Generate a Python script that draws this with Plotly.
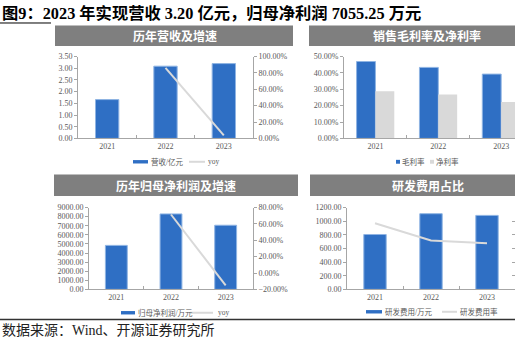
import plotly.graph_objects as go

# ---- data ----
years = ["2021", "2022", "2023"]
revenue = [1.66, 3.09, 3.20]              # 营收/亿元
revenue_yoy = [0.861, 0.036]              # yoy, 2022-2023
gross_margin = [0.470, 0.434, 0.393]      # 毛利率
net_margin = [0.289, 0.269, 0.223]        # 净利率
net_profit = [4840.0, 8300.0, 7055.25]    # 归母净利润/万元
profit_yoy = [0.715, -0.150]              # yoy, 2022-2023
rd_expense = [805.0, 1110.0, 1085.0]      # 研发费用/万元
rd_ratio = [0.0485, 0.0359, 0.0339]       # 研发费用率

W, H = 515, 346


def px(x):
    return x / W


def py(y):
    return 1 - y / H


BLUE = "#2F6FC4"
BLUE_EDGE = "#8FB4E3"
LIGHT = "#D9D9D9"
AXIS = "#A6A6A6"
TXT = "#595959"
SERIF = "Times New Roman, Liberation Serif, serif"
CJK = "Noto Sans CJK SC, sans-serif"
tickfont = dict(family=SERIF, size=8, color=TXT)

fig = go.Figure()

# panel 1: revenue + yoy
fig.add_trace(go.Bar(x=years, y=revenue, name="营收/亿元", width=0.4,
                     marker=dict(color=BLUE, line=dict(color=BLUE_EDGE, width=1)),
                     xaxis="x", yaxis="y"))
fig.add_trace(go.Scatter(x=years[1:], y=revenue_yoy, name="yoy", mode="lines",
                         line=dict(color=LIGHT, width=2), xaxis="x", yaxis="y2"))

# panel 2: gross / net margin
fig.add_trace(go.Bar(x=years, y=gross_margin, name="毛利率",
                     marker=dict(color=BLUE, line=dict(color=BLUE_EDGE, width=1)),
                     xaxis="x2", yaxis="y3"))
fig.add_trace(go.Bar(x=years, y=net_margin, name="净利率",
                     marker=dict(color=LIGHT, line=dict(color=LIGHT, width=0)),
                     xaxis="x2", yaxis="y3"))

# panel 3: net profit + yoy
fig.add_trace(go.Bar(x=years, y=net_profit, name="归母净利润/万元", width=0.4,
                     marker=dict(color=BLUE, line=dict(color=BLUE_EDGE, width=1)),
                     xaxis="x3", yaxis="y4"))
fig.add_trace(go.Scatter(x=years[1:], y=profit_yoy, name="yoy", mode="lines",
                         line=dict(color=LIGHT, width=2), xaxis="x3", yaxis="y5"))

# panel 4: R&D expense + ratio
fig.add_trace(go.Bar(x=years, y=rd_expense, name="研发费用/万元", width=0.4,
                     marker=dict(color=BLUE, line=dict(color=BLUE_EDGE, width=1)),
                     xaxis="x4", yaxis="y6"))
fig.add_trace(go.Scatter(x=years, y=rd_ratio, name="研发费用率", mode="lines",
                         line=dict(color=LIGHT, width=2), xaxis="x4", yaxis="y7"))


def xax(domain, anchor, rng):
    return dict(domain=domain, anchor=anchor, type="category", categoryorder="array",
                categoryarray=years, range=rng, showline=True, linecolor=AXIS,
                linewidth=1, ticks="inside", tickson="boundaries", ticklen=3,
                tickcolor=AXIS, tickfont=tickfont, showgrid=False, zeroline=False,
                fixedrange=True)


def yax(domain, anchor, rng, dtick, fmt, side="left", overlay=None, labels=True):
    d = dict(domain=domain, anchor=anchor, range=rng, dtick=dtick, tickformat=fmt,
             side=side, showline=True, linecolor=AXIS, linewidth=1,
             ticks="outside", ticklen=3, tickcolor=AXIS, tickfont=tickfont,
             showgrid=False, zeroline=False, showticklabels=labels, fixedrange=True)
    if overlay:
        d["overlaying"] = overlay
    return d


top_y = [py(138), py(54)]
bot_y = [py(293), py(209)]

fig.update_layout(
    width=W, height=H, margin=dict(l=0, r=0, t=0, b=0),
    paper_bgcolor="white", plot_bgcolor="white",
    showlegend=False, barmode="group", bargap=0.4, bargroupgap=0,
    xaxis=xax([px(78), px(253)], "y", [-0.5, 2.5]),
    yaxis=yax(top_y, "x", [0, 3.5], 0.5, ".2f"),
    yaxis2=yax(top_y, "x", [0, 1.0], 0.2, ".2%", side="right", overlay="y"),
    xaxis2=xax([px(344), 1.0], "y3", [-0.5, 2.22]),
    yaxis3=yax(top_y, "x2", [0, 0.5], 0.1, ".2%"),
    xaxis3=xax([px(89), px(253)], "y4", [-0.5, 2.5]),
    yaxis4=yax(bot_y, "x3", [0, 9000], 1000, ".2f"),
    yaxis5=yax(bot_y, "x3", [-0.2, 0.8], 0.2, ".2%", side="right", overlay="y4"),
    xaxis4=xax([px(347), 1.0], "y6", [-0.5, 2.5]),
    yaxis6=yax(bot_y, "x4", [0, 1200], 200, ".2f"),
    yaxis7=yax(bot_y, "x4", [0, 0.06], 0.01, ".2%", side="right", overlay="y6",
               labels=False),
)
fig.layout.yaxis7.ticks = "inside"

shapes = []
annotations = []

# panel header bars
headers = [
    ("历年营收及增速", 55, 293, 22, 43, 175),
    ("销售毛利率及净利率", 309, 516, 22, 43, 427),
    ("历年归母净利润及增速", 54, 298, 175, 197, 176),
    ("研发费用占比", 310, 516, 175, 197, 428),
]
for text, x0, x1, y0, y1, xc in headers:
    shapes.append(dict(type="rect", xref="paper", yref="paper",
                       x0=px(x0), x1=px(x1), y0=py(y1), y1=py(y0),
                       fillcolor="#7F7F7F", line=dict(width=0)))
    annotations.append(dict(text="<b>%s</b>" % text, xref="paper", yref="paper",
                            x=px(xc), y=py((y0 + y1) / 2), xanchor="center",
                            yanchor="middle", showarrow=False,
                            font=dict(family=CJK, size=12, color="white")))

# hand-drawn legends under each panel
legfont = dict(family=SERIF + ", " + CJK, size=7.5, color=TXT)


def leg_rect(x0, x1, yc, h, color):
    shapes.append(dict(type="rect", xref="paper", yref="paper",
                       x0=px(x0), x1=px(x1), y0=py(yc + h / 2), y1=py(yc - h / 2),
                       fillcolor=color, line=dict(width=0)))


def leg_line(x0, x1, yc):
    shapes.append(dict(type="line", xref="paper", yref="paper",
                       x0=px(x0), x1=px(x1), y0=py(yc), y1=py(yc),
                       line=dict(color=LIGHT, width=2)))


def leg_text(text, x, yc):
    annotations.append(dict(text=text, xref="paper", yref="paper", x=px(x), y=py(yc),
                            xanchor="left", yanchor="middle", showarrow=False,
                            font=legfont))


leg_rect(133, 148, 162, 3.5, BLUE)
leg_text("营收/亿元", 149, 162)
leg_line(189, 205, 162)
leg_text("yoy", 206, 162)

leg_rect(396, 400, 162, 4, BLUE)
leg_text("毛利率", 400, 162)
leg_rect(430, 434, 162, 4, LIGHT)
leg_text("净利率", 434, 162)

leg_rect(121, 135, 317, 3.5, BLUE)
leg_text("归母净利润/万元", 136, 317)
leg_line(190, 213, 317)
leg_text("yoy", 216, 317)

leg_rect(366, 382, 316, 3.5, BLUE)
leg_text("研发费用/万元", 383, 316)
leg_line(442, 457, 316)
leg_text("研发费用率", 458, 316)

# figure caption, underline and footer rule
annotations.append(dict(text="<b>图9：2023 年实现营收 3.20 亿元，归母净利润 7055.25 万元</b>",
                        xref="paper", yref="paper", x=px(0), y=py(9.5),
                        xanchor="left", yanchor="middle", showarrow=False,
                        font=dict(family=SERIF + ", " + CJK, size=16.3, color="black")))
shapes.append(dict(type="line", xref="paper", yref="paper", x0=px(0), x1=px(51),
                   y0=py(19.5), y1=py(19.5), line=dict(color="black", width=1)))
shapes.append(dict(type="line", xref="paper", yref="paper", x0=px(0), x1=px(515),
                   y0=py(324), y1=py(324), line=dict(color="#333333", width=1.5)))
annotations.append(dict(text="数据来源：Wind、开源证券研究所",
                        xref="paper", yref="paper", x=px(0), y=py(335),
                        xanchor="left", yanchor="middle", showarrow=False,
                        font=dict(family=SERIF + ", " + CJK, size=14, color="#222222")))

fig.update_layout(shapes=shapes, annotations=annotations)
fig.write_html("out.html")
